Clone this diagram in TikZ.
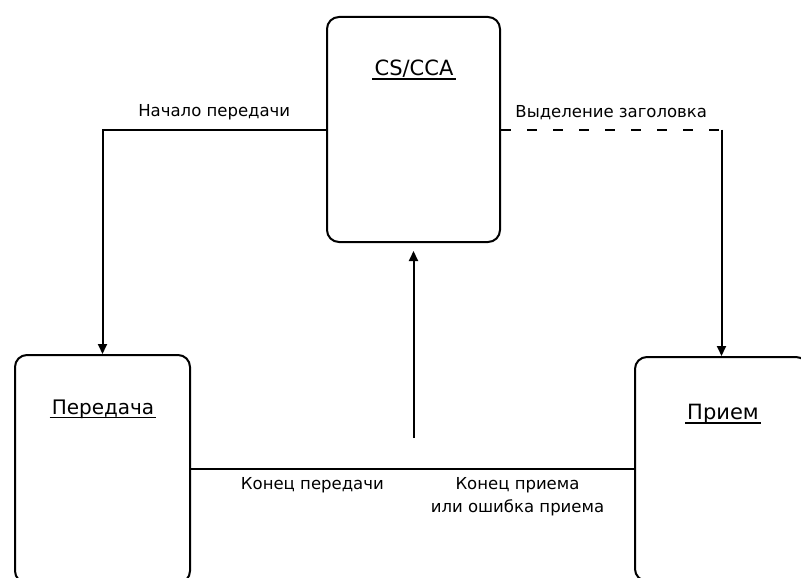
\documentclass[tikz,border=0pt]{standalone}
\usepackage{fontspec}
\setmainfont{DejaVu Sans}
\usetikzlibrary{arrows.meta, positioning}

\begin{document}
\begin{tikzpicture}[x=1pt, y=-1pt,
  state/.style={draw, rounded corners=12pt, line width=2pt, minimum width=175pt, inner sep=0pt},
  title/.style={font=\fontsize{21}{25}\selectfont, text depth=0pt, inner xsep=2pt, inner ysep=3pt,
    append after command={(\tikzlastnode.south west) edge[line width=1.6pt] (\tikzlastnode.south east)}},
  lbl/.style={font=\fontsize{16.5}{23}\selectfont, align=center},
  link/.style={line width=2pt},
  arr/.style={link, -{Triangle[length=10pt, width=9pt]}}]
\useasboundingbox (0,0) rectangle (801,578);
\clip (0,0) rectangle (801,578);
% Состояния
\node[state, minimum width=173pt, minimum height=225pt] (cs) at (413.5,129.5) {};
\node[state, minimum height=228pt] (peredacha) at (102.5,469) {};
\node[state, minimum width=173pt, minimum height=224pt] (priem) at (721.5,469) {};
\node[title] (cs-t) at (414,68) {CS/CCA};
\node[title, font=\fontsize{20}{24}\selectfont] (peredacha-t) at (103,407) {Передача};
\node[title] (priem-t) at (723,412) {Прием};
% Переходы
\draw[arr] (cs.west) -| node[lbl, pos=0.25, above=5pt] (t-start) {Начало передачи} (peredacha.north);
\coordinate (turn) at (cs.east -| priem.north);
\draw[link, dash pattern=on 10pt off 16pt] (cs.east) -- node[lbl, above=5pt] (t-header) {Выделение заголовка} (turn);
\draw[arr] (turn) -- (priem.north);
\draw[link] (peredacha.east) -- node[lbl, pos=0.274, below=4pt] (t-txend) {Конец передачи}
  node[lbl, pos=0.737, below=4pt] (t-rxend) {Конец приема\\или ошибка приема} (priem.west);
\coordinate (merge) at (413.5,438);
\draw[arr, shorten >=8pt] (merge) -- (cs.south);
\end{tikzpicture}
\end{document}
